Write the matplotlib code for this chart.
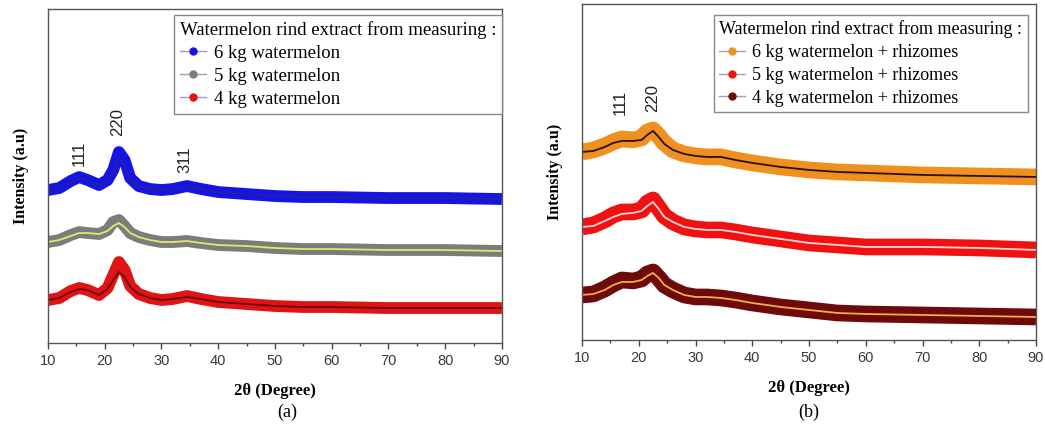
import matplotlib
matplotlib.use('Agg')
import matplotlib.pyplot as plt
from matplotlib.lines import Line2D

# diffraction angle (2 theta) where the curves were read
two_theta = [10, 12, 14, 15.5, 17, 19, 20.5, 21.5, 22.5, 23.5, 24.5, 26, 28,
             30, 32, 34.5, 37, 40, 45, 50, 55, 60, 70, 80, 90]

# panel (a): raw band and smoothed line, arbitrary units
a_labels = ['6 kg watermelon', '5 kg watermelon', '4 kg watermelon']
a6_raw = [153, 155, 162, 166, 163, 158, 163, 173, 191, 183, 165, 157, 154,
          153, 154, 157, 154, 151, 149, 147, 146, 146, 145, 145, 144]
a6_fit = [153, 155, 161, 165, 162, 158, 162, 171, 185, 178, 164, 157, 154,
          153, 154, 156, 154, 151, 149, 147, 146, 146, 145, 145, 144]
a5_raw = [101, 103, 108, 111, 110, 109, 113, 121, 123, 117, 110, 106, 103,
          101, 101, 102, 100, 98, 97, 95, 94, 94, 93, 93, 92]
a5_fit = [101, 103, 107, 110, 110, 109, 112, 117, 120, 116, 110, 106, 103,
          101, 101, 102, 100, 98, 97, 95, 94, 94, 93, 93, 92]
a4_raw = [43, 45, 52, 55, 53, 48, 55, 68, 81, 73, 57, 49, 45,
          43, 44, 47, 44, 41, 39, 37, 36, 36, 35, 35, 35]
a4_fit = [43, 45, 51, 54, 53, 48, 54, 63, 71, 66, 56, 49, 45,
          43, 44, 46, 44, 41, 39, 37, 36, 36, 35, 35, 35]

# panel (b)
b_labels = ['6 kg watermelon + rhizomes', '5 kg watermelon + rhizomes',
            '4 kg watermelon + rhizomes']
b6_raw = [188, 190, 194, 198, 201, 200, 202, 208, 210, 204, 197, 190, 186,
          184, 183, 183, 180, 177, 173, 170, 168, 167, 165, 164, 163]
b6_fit = [188, 189, 193, 197, 199, 199, 200, 205, 209, 203, 196, 190, 186,
          184, 183, 183, 180, 177, 173, 170, 168, 167, 165, 164, 163]
b5_raw = [113, 115, 120, 125, 128, 128, 130, 137, 140, 132, 124, 118, 113,
          111, 110, 110, 108, 105, 101, 97, 95, 93, 93, 92, 90]
b5_fit = [113, 114, 119, 123, 126, 127, 129, 134, 138, 131, 123, 118, 113,
          111, 110, 110, 108, 105, 101, 97, 95, 93, 93, 92, 90]
b4_raw = [45, 46, 51, 56, 60, 59, 61, 66, 68, 62, 55, 50, 45,
          43, 43, 42, 40, 37, 33, 30, 27, 26, 25, 24, 23]
b4_fit = [45, 46, 50, 55, 58, 58, 60, 64, 67, 62, 55, 50, 45,
          43, 43, 42, 40, 37, 33, 30, 27, 26, 25, 24, 23]

# peak labels: (text, 2theta, height)
a_peaks = [('111', 15.6, 190), ('220', 22.3, 221), ('311', 34.1, 183)]
b_peaks = [('111', 16.7, 238), ('220', 22.5, 242)]

SERIF = ['Liberation Serif', 'DejaVu Serif']
SANS = ['Liberation Sans', 'DejaVu Sans']

fig = plt.figure(figsize=(10.45, 4.32), dpi=100)
ax1 = fig.add_axes([0.0459, 0.206, 0.4344, 0.773])
ax2 = fig.add_axes([0.557, 0.213, 0.4344, 0.778])


def draw_panel(ax, series, labels, peaks, band_lw, ylim, legend_anchor, leg_fs):
    for raw, fit, band_c, line_c in series:
        ax.plot(two_theta, raw, color=band_c, lw=band_lw,
                solid_capstyle='butt', solid_joinstyle='round')
        ax.plot(two_theta, fit, color=line_c, lw=1.3)
    for txt, xp, yp in peaks:
        ax.text(xp, yp, txt, rotation=90, ha='center', va='center',
                fontsize=12, family=SANS, color='#222222')
    ax.set_xlim(10, 90)
    ax.set_ylim(*ylim)
    ax.set_yticks([])
    ax.set_xticks(range(10, 91, 10))
    ax.set_xticks(range(15, 90, 10), minor=True)
    ax.tick_params(axis='x', which='major', direction='out', length=4,
                   width=1, color='#444444', labelsize=10.5,
                   labelcolor='#3a3a3a', pad=4)
    ax.tick_params(axis='x', which='minor', direction='out', length=2.5,
                   width=1, color='#444444')
    for lab in ax.get_xticklabels():
        lab.set_family(SANS)
    for sp in ax.spines.values():
        sp.set_color('#555555')
        sp.set_linewidth(1)
    ax.set_xlabel('2θ (Degree)', family=SERIF, fontweight='bold',
                  fontsize=12, labelpad=11)
    ax.set_ylabel('Intensity (a.u)', family=SERIF, fontweight='bold',
                  fontsize=11.5, labelpad=14)
    handles = [Line2D([0], [0], color='#9aa0b8', lw=1, marker='o',
                      markersize=5, markerfacecolor=s[2],
                      markeredgecolor=s[2]) for s in series]
    leg = ax.legend(handles, labels, title='Watermelon rind extract from measuring :',
                    loc='upper right', bbox_to_anchor=legend_anchor,
                    borderaxespad=0, fancybox=False, framealpha=1,
                    edgecolor='#888888', prop={'family': SERIF, 'size': leg_fs},
                    title_fontproperties={'family': SERIF, 'size': leg_fs},
                    alignment='left', handlelength=1.4, handletextpad=0.4,
                    labelspacing=0.32, borderpad=0.3)
    leg.get_frame().set_linewidth(1)


draw_panel(ax1,
           [(a6_raw, a6_fit, '#1414e6', '#2a2098'),
            (a5_raw, a5_fit, '#7c7c7c', '#e6e66a'),
            (a4_raw, a4_fit, '#e01414', '#6a0a0a')],
           a_labels, a_peaks, 8.5, (0, 334), (1.0, 0.982), 13.5)
draw_panel(ax2,
           [(b6_raw, b6_fit, '#f0901e', '#2a1010'),
            (b5_raw, b5_fit, '#f01212', '#ffd6d6'),
            (b4_raw, b4_fit, '#6e0a0a', '#f0b040')],
           b_labels, b_peaks, 12, (0, 336), (0.982, 0.967), 13)

fig.text(287 / 1045, 1 - 412 / 432, '(a)', ha='center', va='center',
         family=SERIF, fontsize=13)
fig.text(809 / 1045, 1 - 412 / 432, '(b)', ha='center', va='center',
         family=SERIF, fontsize=13)

fig.savefig('out.png', dpi=100)
